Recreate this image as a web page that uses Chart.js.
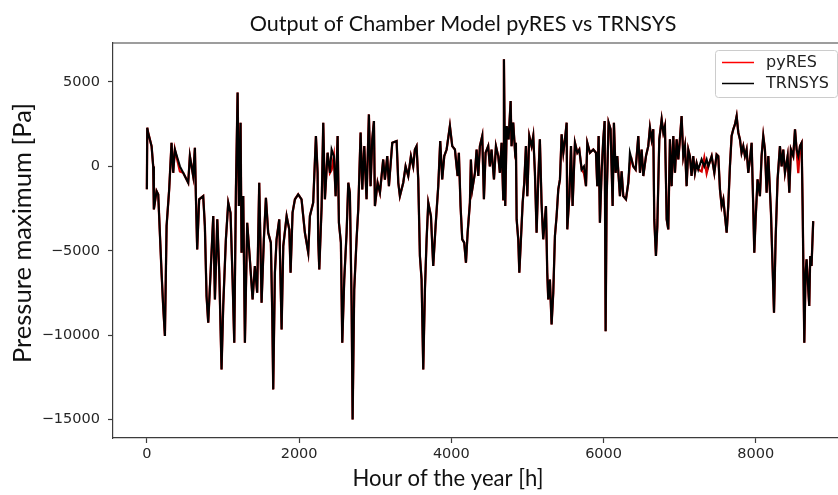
<!DOCTYPE html>
<html>
<head>
<meta charset="utf-8">
<script src="https://cdn.jsdelivr.net/npm/chart.js@4.4.1/dist/chart.umd.min.js"></script>
<style>
  html, body { margin: 0; padding: 0; background: #fff; overflow: hidden; }
  #wrap { width: 838px; height: 495px; overflow: hidden; position: relative; }
  canvas { display: block; }
</style>
</head>
<body>
<div id="wrap"><canvas id="chart" width="926" height="495"></canvas></div>
<script>
// ---- data (hour of year, pressure in Pa) ----
const hours = [
  0, 5, 17, 62, 83, 92, 127, 149, 193, 214,
  237, 259, 293, 324, 346, 368, 434, 477, 543, 565,
  608, 631, 644, 661, 687, 740, 762, 784, 806, 837,
  872, 894, 925, 951, 981, 1003, 1038, 1069, 1099, 1126,
  1148, 1170, 1192, 1209, 1231, 1244, 1266, 1288, 1318, 1353,
  1389, 1419, 1449, 1476, 1507, 1537, 1564, 1594, 1629, 1647,
  1660, 1682, 1704, 1739, 1770, 1792, 1836, 1871, 1888, 1914,
  1945, 1988, 2032, 2054, 2076, 2120, 2142, 2185, 2221, 2243,
  2251, 2265, 2296, 2317, 2339, 2374, 2405, 2427, 2457, 2480,
  2506, 2523, 2549, 2567, 2593, 2624, 2646, 2667, 2690, 2703,
  2724, 2755, 2777, 2808, 2830, 2856, 2886, 2917, 2939, 2961,
  2983, 2996, 3031, 3062, 3105, 3127, 3158, 3180, 3224, 3281,
  3303, 3324, 3368, 3399, 3434, 3469, 3499, 3521, 3543, 3565,
  3587, 3609, 3631, 3653, 3675, 3697, 3732, 3762, 3793, 3828,
  3854, 3880, 3907, 3938, 3981, 4012, 4047, 4082, 4099, 4121,
  4143, 4169, 4192, 4214, 4244, 4257, 4275, 4310, 4332, 4354,
  4375, 4406, 4428, 4450, 4484, 4506, 4528, 4560, 4586, 4616,
  4638, 4660, 4682, 4691, 4708, 4727, 4752, 4779, 4791, 4813,
  4835, 4848, 4858, 4879, 4893, 4910, 4937, 4958, 4980, 4998,
  5024, 5054, 5076, 5098, 5120, 5142, 5163, 5185, 5207, 5243,
  5260, 5273, 5295, 5317, 5339, 5361, 5383, 5405, 5427, 5449,
  5471, 5493, 5515, 5523, 5550, 5572, 5593, 5624, 5655, 5681,
  5712, 5742, 5769, 5786, 5821, 5865, 5900, 5917, 5935, 5952,
  5974, 5996, 6014, 6027, 6040, 6066, 6092, 6119, 6136, 6158,
  6180, 6215, 6237, 6259, 6294, 6325, 6346, 6368, 6390, 6421,
  6456, 6478, 6500, 6522, 6557, 6587, 6609, 6631, 6653, 6666,
  6688, 6706, 6732, 6763, 6785, 6806, 6829, 6850, 6872, 6894,
  6916, 6938, 6960, 6982, 7003, 7025, 7047, 7069, 7091, 7113,
  7134, 7156, 7178, 7200, 7222, 7244, 7288, 7323, 7354, 7376,
  7420, 7455, 7485, 7507, 7529, 7551, 7573, 7595, 7617, 7638,
  7660, 7682, 7704, 7726, 7748, 7770, 7792, 7813, 7835, 7857,
  7879, 7901, 7923, 7945, 7966, 7980, 7997, 8023, 8054, 8076,
  8098, 8120, 8142, 8164, 8199, 8216, 8239, 8260, 8286, 8317,
  8339, 8361, 8383, 8418, 8440, 8461, 8492, 8515, 8536, 8558,
  8580, 8602, 8615, 8637, 8654, 8667, 8689, 8702, 8715, 8732,
  8754
];

const trnsys = [
  -1360, 2290, 2000, 1200, 0, -2550, -1460, -1660, -6300, -8270,
  -10050, -3530, -1360, 1400, -380, 1000, 0, -380, -970, 610,
  -570, 1100, -1760, -4920, -1950, -1760, -3540, -7680, -9260, -6300,
  -2940, -7880, -3140, -6300, -12030, -8270, -4320, -2150, -2750, -6700,
  -10450, -1360, 4370, -2350, 2590, -5110, -1760, -10450, -3340, -5510,
  -7880, -5900, -7480, -970, -8080, -4320, -1860, -3930, -4520, -8670,
  -13210, -6300, -4320, -3140, -9660, -4720, -2940, -3740, -6300, -2740,
  -1950, -1660, -1950, -2940, -3930, -5110, -2940, -2150, 1800, -380,
  -4320, -6100, -2350, 2590, -1950, 810, -380, 1000, 610, -1760,
  1800, -3340, -4520, -10450, -6700, -3930, -970, -1560, -8270, -14990,
  -7290, -4320, -2550, 2000, -1360, 1200, -1950, 3080, -1170, 1600,
  2690, -2350, -970, -1560, 410, -780, 610, -1170, 1400, 1500,
  -970, -1760, -970, 0, -570, 610, 0, 1000, 1200, -770,
  -5310, -6700, -12030, -7290, -4320, -2150, -2940, -5900, -3540, -1170,
  1500, -770, 610, 1000, 2390, 1200, 1000, -570, 810, -2350,
  -4320, -4520, -5710, -3930, -2150, 410, -1360, -380, 1000, -570,
  1200, 1800, -1950, 810, 1200, 0, 1000, -770, 1200, 610,
  -380, 1400, -1950, 6340, -2350, 2390, 1600, 3870, 1200, 2590,
  1000, 1400, -3140, -4320, -6300, -4720, -2150, -970, 1200, -1760,
  1800, 1200, 1800, -380, -3930, -770, 1600, -2150, -4320, -2350,
  -6300, -7880, -6700, -9360, -7480, -4120, -2940, -1360, -770, 1900,
  810, 1600, 2590, -3730, -1760, 1200, -2350, 1400, 810, 1000,
  -190, 0, -1170, 1400, 810, 1000, 810, -1170, 1800, -3340,
  -380, 1600, 2690, -9760, -1950, 2590, 2200, -2350, 2590, -380,
  610, -1760, -290, -1760, -1950, -970, 810, 410, 0, -190,
  1800, -380, 1000, -570, 610, 1200, 2290, 1600, 2200, -3140,
  -5310, -3540, 1600, 2790, 2000, 2390, -3140, -3730, 1600, -1170,
  1800, -380, 1600, 410, 1600, 2980, 610, 1200, -1170, 1000,
  610, -570, 610, -380, 200, -190, 410, 0, 410, 0,
  610, -380, 710, 610, -1360, -2350, -1950, -2940, -3930, -2350,
  0, 1800, 2200, 2490, 2980, 2000, 1600, 810, 1200, 610,
  1000, -380, 410, 1400, -2350, -5110, -3140, -770, -1760, 610,
  1800, 1000, -1560, 610, -2740, -5310, -8670, -4320, -770, 1200,
  0, 1000, -380, 610, -1560, 1000, 610, 2190, 1000, 610,
  1200, 1400, -2350, -10450, -6300, -5510, -7290, -8270, -5310, -5900,
  -3240
];

const pyres = [
  -1360, 2290, 2000, 1200, 0, -2550, -1460, -1660, -6300, -8270,
  -10050, -3530, -1360, 1400, -380, 1000, -300, -380, -970, 610,
  -570, 1100, -1760, -4920, -1950, -1760, -3540, -7680, -9260, -6300,
  -2940, -7880, -3140, -6300, -12030, -8270, -4320, -2150, -2750, -6700,
  -10450, -1360, 4370, -2350, 2590, -5110, -1760, -10450, -3340, -5510,
  -7880, -5900, -7480, -970, -8080, -4320, -1860, -3930, -4520, -8670,
  -13210, -6300, -4320, -3140, -9660, -4720, -2940, -3740, -6300, -2740,
  -1950, -1660, -1950, -2940, -3930, -5110, -2940, -2150, 1800, -380,
  -4320, -6100, -2350, 2590, -1950, 810, -380, -200, 610, -1760,
  1800, -3340, -4520, -10450, -6700, -3930, -970, -1560, -8270, -14990,
  -7290, -4320, -2550, 2000, -1360, 1200, -1950, 3080, -1170, 1600,
  2690, -2350, -970, -1560, 410, -780, 610, -1170, 1400, 1500,
  -970, -1760, -970, 0, -570, 610, 0, 1000, 1200, -770,
  -5310, -6700, -12030, -7290, -4320, -2150, -2940, -5900, -3540, -1170,
  1500, -770, 610, 1000, 2390, 1200, 1000, -570, 810, -2350,
  -4320, -4520, -5710, -3930, -2150, 410, -1360, -380, 1000, -570,
  1200, 1800, -1950, 810, 1200, 0, 1000, -770, 1200, 610,
  -380, 1400, -1950, 6340, -2350, 2390, 1600, 3870, 1200, 2590,
  1000, 1400, -3140, -4320, -6300, -4720, -2150, -970, 1200, -1760,
  1800, 1200, 1800, -380, -3930, -770, 1600, -2150, -4320, -2350,
  -6300, -7880, -6700, -9360, -7480, -4120, -2940, -1360, -770, 1900,
  810, 1600, 2590, -3730, -1760, 1200, -2350, 1400, 810, 1000,
  -190, -400, -1170, 1400, 810, 1000, 810, -1170, 1800, -3340,
  -380, 1600, 2690, -9760, -1950, 2590, 2200, -2350, 2590, -380,
  610, -1760, -290, -1760, -1950, -970, 200, 410, 0, -190,
  1800, -380, 1000, -570, 610, 1200, 2290, 1600, 2200, -3140,
  -5310, -3540, 1600, 2790, 2000, 2390, -3140, -3730, 1600, -1170,
  1800, -380, 1600, 410, 1600, 2980, 610, 1200, -1170, 1000,
  610, -570, 610, -380, 200, -190, -300, 500, -400, 0,
  610, -380, 710, 610, -1360, -2350, -1950, -2940, -3930, -2350,
  0, 1800, 2200, 2490, 2980, 2000, 1600, 810, 1200, 610,
  1000, -380, 410, 1400, -2350, -5110, -3140, -770, -1760, 610,
  1800, 1000, -1560, 610, -2740, -5310, -8670, -4320, -770, 1200,
  0, 1000, -380, 610, -1560, 1000, 610, 2190, 1000, -400,
  1200, 1400, -2350, -10450, -6300, -5510, -7290, -8270, -5310, -5900,
  -3240
];

const xTicks = [0, 2000, 4000, 6000, 8000];
const yTicks = [-15000, -10000, -5000, 0, 5000];

const titleText = "Output of Chamber Model pyRES vs TRNSYS";
const xTitle = "Hour of the year [h]";
const yTitle = "Pressure maximum [Pa]";

// text laid over the figure in a Calibri-like face: fit it to the measured width
function fitText(ctx, text, x, y, width, angle) {
  ctx.save();
  ctx.font = "100px Lato";
  const size = 100 * width / ctx.measureText(text).width;
  ctx.font = size.toFixed(2) + "px Lato";
  ctx.fillStyle = "#111";
  ctx.textAlign = "center";
  ctx.textBaseline = "alphabetic";
  ctx.translate(x, y);
  ctx.rotate(angle);
  ctx.fillText(text, 0, 0);
  ctx.restore();
}

const overlay = {
  id: "overlay",
  afterDraw(chart) {
    const { ctx, chartArea: a } = chart;
    ctx.save();

    // top + right spine (matplotlib box)
    ctx.strokeStyle = "#3c3c3c";
    ctx.lineWidth = 1.2;
    ctx.beginPath();
    ctx.moveTo(a.left, a.top);
    ctx.lineTo(a.right, a.top);
    ctx.lineTo(a.right, a.bottom);
    ctx.stroke();

    // legend box
    const bx = 715, by = 50, bw = 122, bh = 47;
    ctx.fillStyle = "rgba(255,255,255,0.85)";
    ctx.strokeStyle = "#cccccc";
    ctx.lineWidth = 1;
    ctx.beginPath();
    ctx.roundRect(bx + 0.5, by + 0.5, bw, bh, 3);
    ctx.fill();
    ctx.stroke();

    ctx.font = "16px 'DejaVu Sans'";
    ctx.textBaseline = "middle";
    ctx.textAlign = "left";
    chart.data.datasets.forEach((ds, i) => {
      const ly = 62.5 + i * 21;
      ctx.strokeStyle = ds.legendColor;
      ctx.lineWidth = 1.5;
      ctx.beginPath();
      ctx.moveTo(722, ly);
      ctx.lineTo(754, ly);
      ctx.stroke();
      ctx.fillStyle = "#222";
      ctx.fillText(ds.label, 766, ly);
    });
    ctx.restore();

    fitText(ctx, titleText, 463, 31, 427, 0);
    fitText(ctx, xTitle, 448, 486, 191, 0);
    fitText(ctx, yTitle, 31, 233, 260, -Math.PI / 2);
  }
};

const ctx = document.getElementById("chart").getContext("2d");

new Chart(ctx, {
  type: "line",
  data: {
    datasets: [
      {
        label: "pyRES",
        data: hours.map((h, i) => ({ x: h, y: pyres[i] })),
        borderColor: "#d40000",
        legendColor: "#ff0000",
        borderWidth: 2.3,
        pointRadius: 0,
        tension: 0,
        order: 1
      },
      {
        label: "TRNSYS",
        data: hours.map((h, i) => ({ x: h, y: trnsys[i] })),
        borderColor: "#000000",
        legendColor: "#000000",
        borderWidth: 2.1,
        pointRadius: 0,
        tension: 0,
        order: 0
      }
    ]
  },
  options: {
    responsive: false,
    devicePixelRatio: 1,
    animation: false,
    events: [],
    layout: { padding: { top: 43, right: 79, bottom: 0, left: 0 } },
    plugins: {
      legend: { display: false },
      title: { display: false },
      tooltip: { enabled: false }
    },
    scales: {
      x: {
        type: "linear",
        min: -445,
        max: 9198,
        afterBuildTicks: (s) => { s.ticks = xTicks.map(v => ({ value: v })); },
        afterFit: (s) => { s.height = 57; },
        grid: { drawOnChartArea: false, drawTicks: true, tickLength: 5, tickColor: "#3c3c3c", tickWidth: 1.2 },
        border: { color: "#3c3c3c", width: 1.2 },
        ticks: {
          color: "#262626",
          padding: 3,
          maxRotation: 0,
          font: { family: "'DejaVu Sans'", size: 14.5 },
          callback: (v) => String(v)
        }
      },
      y: {
        type: "linear",
        min: -16090,
        max: 7310,
        afterBuildTicks: (s) => { s.ticks = yTicks.map(v => ({ value: v })); },
        afterFit: (s) => { s.width = 113; },
        grid: { drawOnChartArea: false, drawTicks: true, tickLength: 5, tickColor: "#3c3c3c", tickWidth: 1.2 },
        border: { color: "#3c3c3c", width: 1.2 },
        ticks: {
          color: "#262626",
          padding: 8,
          font: { family: "'DejaVu Sans'", size: 14.5 },
          callback: (v) => (v < 0 ? "\u2212" + Math.abs(v) : String(v))
        }
      }
    }
  },
  plugins: [overlay]
});
</script>
</body>
</html>
